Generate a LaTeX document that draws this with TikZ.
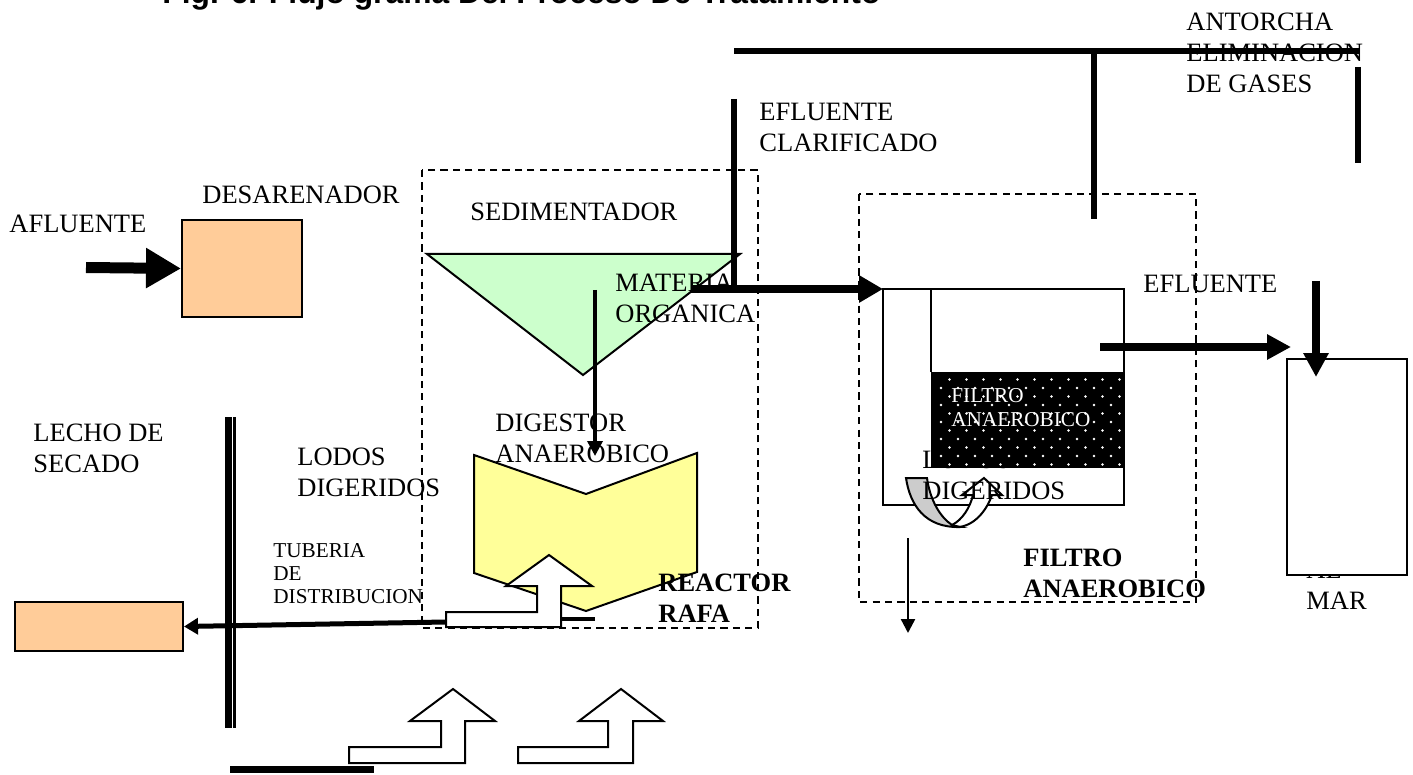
\documentclass[tikz,border=0pt]{standalone}
\usepackage{fontspec}
\setmainfont{Liberation Serif}
\newfontfamily\arialf{Liberation Sans}
\usetikzlibrary{arrows.meta}
\tikzset{
 lbl/.style={inner sep=0pt,align=left,anchor=north west,font=\fontsize{13.25}{15.5}\selectfont,text=black},
 lblsmall/.style={lbl,font=\fontsize{10.6}{11.5}\selectfont},
 lblbold/.style={lbl,font=\fontsize{13.25}{15.5}\selectfont\bfseries},
 lblwhite/.style={lbl,font=\fontsize{10.6}{12}\selectfont,text=white},
 box/.style={draw=black,line width=1pt},
 dashbox/.style={draw=black,line width=0.8pt,dash pattern=on 3.6pt off 2.6pt},
 heavy/.style={line width=3pt,draw=black},
 blockarrow/.style={draw=black,fill=white,line width=1pt,line join=miter},
}
\definecolor{sand}{RGB}{255,204,153}
\definecolor{lgreen}{RGB}{204,255,204}
\definecolor{lyellow}{RGB}{255,255,153}
\begin{document}
\begin{tikzpicture}[x=0.5pt,y=-0.5pt]
\useasboundingbox (0,0) rectangle (1413,775);
\fill[white] (0,0) rectangle (1413,775);
% title
\node[inner sep=0pt,anchor=base west,font=\fontsize{15.9}{18}\selectfont\arialf\bfseries] (title) at (162,3.5) {Fig. 6. Flujo grama Del Proceso De Tratamiento};
% dashed boxes
\draw[dashbox] (422,170) rectangle (758,628);
\draw[dashbox] (859,194) rectangle (1196,602);
% shapes
\node[box,fill=sand,inner sep=0pt,minimum width=60pt,minimum height=48.5pt,anchor=north west] (des) at (181,219) {};
\node[box,fill=sand,inner sep=0pt,minimum width=84pt,minimum height=24.5pt,anchor=north west] (lecho) at (14,601) {};
\draw[box,fill=lgreen] (427,254) -- (740,254) -- (583,375) -- cycle;
\draw[box,fill=lyellow] (474,455) -- (586,494) -- (697,453) -- (697,572) -- (586,611) -- (474,573) -- cycle;
% filter tank
\draw[box] (883,289) rectangle (1124,505);
\draw[box] (931,289) -- (931,372);
% curved arrows
\draw[box,fill=white] (952,525) .. controls (962,520) and (970,508) .. (973,495) -- (962,495) -- (984,478) -- (1002,495) -- (992,495) .. controls (985,515) and (970,528) .. (955,527) -- cycle;
\draw[box,fill=black!20] (906,478) -- (927,478) .. controls (930,500) and (940,517) .. (952,525) -- (960,527) .. controls (925,528) and (910,505) .. (906,478) -- cycle;
\node[lbl] (t15) at (922,451) {LODOS\\DIGERIDOS};
% filter medium
\fill[black] (931,372) rectangle (1124,468);
\foreach \yy [count=\r] in {379.5,388,...,466} {
  \foreach \xx in {941,958,...,1120} {
    \fill[white] ({\xx+mod(\r,2)*8.5},\yy) circle (0.65pt);
  }
}
% outfall
\node[lbl] (t16) at (1306,561) {AL\\MAR};
\node[box,fill=white,inner sep=0pt,minimum width=60pt,minimum height=108pt,anchor=north west] (mar) at (1286,358) {};
% lines
\coordinate (f1) at (734,51);
\coordinate (f2) at (1359,51);
\coordinate (g1) at (1094,51);
\coordinate (g2) at (1094,219);
\coordinate (h1) at (1358,67);
\coordinate (h2) at (1358,163);
\draw[heavy] (f1) -- (f2);
\draw[heavy] (g1) -- (g2);
\draw[heavy] (h1) -- (h2);
\coordinate (e1) at (734,99);
\coordinate (e2) at (734,289);
\draw[heavy] (e1) -- (e2);
\coordinate (m1) at (691,289);
\coordinate (m2) at (883,289);
\draw[line width=4pt,-{Triangle[length=12pt,width=13pt]}] (m1) -- (m2);
\coordinate (a1) at (86,267.5);
\draw[line width=5.5pt,-{Triangle[length=17.5pt,width=19pt]}] (a1) -- (des.west);
\coordinate (s1) at (595,290);
\coordinate (s2) at (595,456);
\draw[line width=1.7pt,-{Triangle[length=7.5pt,width=7.5pt]}] (s1) -- (s2);
\coordinate (r1) at (1100,347);
\coordinate (r2) at (1291,347);
\draw[line width=4pt,-{Triangle[length=12pt,width=12pt]}] (r1) -- (r2);
\coordinate (q1) at (1316,281);
\coordinate (q2) at (1316,377);
\draw[line width=4pt,-{Triangle[length=12pt,width=12pt]}] (q1) -- (q2);
\coordinate (l1) at (908,538);
\coordinate (l2) at (908,633);
\draw[line width=1.2pt,-{Triangle[length=7pt,width=7pt]}] (l1) -- (l2);
% double vertical
\coordinate (v1) at (228,417);
\coordinate (v2) at (228,728);
\coordinate (w1) at (234.2,417);
\coordinate (w2) at (234.2,728);
\draw[line width=3.5pt] (v1) -- (v2);
\draw[line width=1.5pt] (w1) -- (w2);
\coordinate (d1) at (446,622);
\draw[line width=2.5pt,-{Triangle[length=7pt,width=8pt]}] (d1) -- (lecho.east);
\coordinate (k1) at (560,619);
\coordinate (k2) at (595,619);
\draw[line width=2pt] (k1) -- (k2);
\coordinate (b1) at (230,769);
\coordinate (b2) at (374,769);
\draw[line width=3.5pt] (b1) -- (b2);
% block arrows
\draw[blockarrow] (446,612) -- (537,612) -- (537,586) -- (506,586) -- (549,555) -- (592,586) -- (561,586) -- (561,627) -- (446,627) -- cycle;
\draw[blockarrow] (349,747) -- (441,747) -- (441,721) -- (410,721) -- (453,689) -- (495,721) -- (465,721) -- (465,763) -- (349,763) -- cycle;
\draw[blockarrow] (518,747) -- (608,747) -- (608,721) -- (579,721) -- (621,689) -- (663,721) -- (633,721) -- (633,763) -- (518,763) -- cycle;
% labels
\node[lbl] (t1) at (1186,13) {ANTORCHA\\ELIMINACION\\DE GASES};
\node[lbl] (t2) at (759,103) {EFLUENTE\\CLARIFICADO};
\node[lbl] (t3) at (202,186) {DESARENADOR};
\node[lbl] (t4) at (9,215) {AFLUENTE};
\node[lbl] (t5) at (470,203) {SEDIMENTADOR};
\node[lbl] (t6) at (615,274) {MATERIA\\ORGANICA};
\node[lbl] (t7) at (1143,275) {EFLUENTE};
\node[lbl] (t8) at (33,424) {LECHO DE\\SECADO};
\node[lbl] (t9) at (297,448) {LODOS\\DIGERIDOS};
\node[lbl] (t10) at (495,414) {DIGESTOR\\ANAEROBICO};
\node[lblsmall] (t11) at (273,543) {TUBERIA\\DE\\DISTRIBUCION};
\node[lblbold] (t12) at (658,574) {REACTOR\\RAFA};
\node[lblbold] (t13) at (1023,549) {FILTRO\\ANAEROBICO};
\node[lblwhite] (t14) at (951,388) {FILTRO\\ANAEROBICO};
\end{tikzpicture}
\end{document}
